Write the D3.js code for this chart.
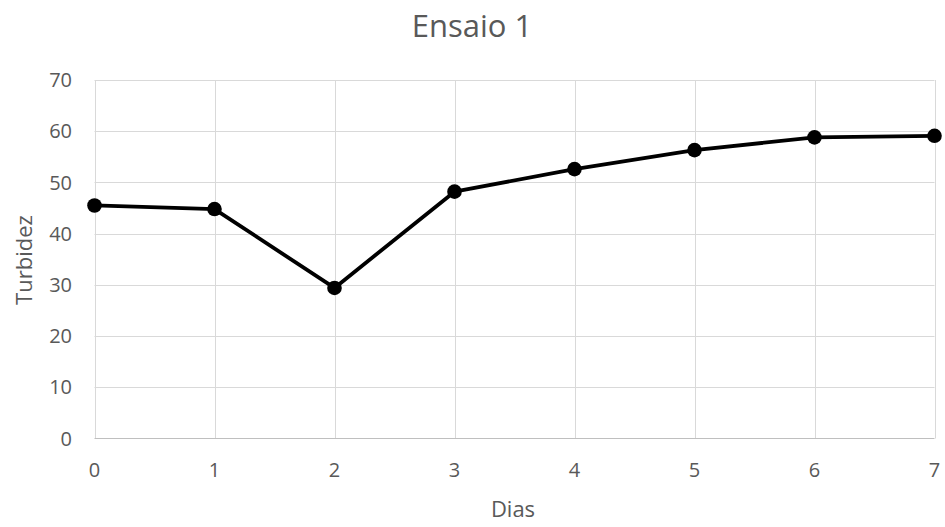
<!DOCTYPE html>
<html>
<head>
<meta charset="utf-8">
<script src="https://cdn.jsdelivr.net/npm/d3@7"></script>
<style>
  html, body { margin: 0; padding: 0; background: #fff; }
  svg { display: block; font-family: "Open Sans", "Liberation Sans", sans-serif; }
</style>
</head>
<body>
<svg id="chart" width="945" height="527"></svg>
<script>
// Turbidity readings per day
const dias = [0, 1, 2, 3, 4, 5, 6, 7];
const turbidez = [45.5, 44.8, 29.4, 48.2, 52.6, 56.3, 58.8, 59.1];
const xTicks = [0, 1, 2, 3, 4, 5, 6, 7];
const yTicks = [0, 10, 20, 30, 40, 50, 60, 70];

const svg = d3.select("#chart");
const plotLeft = 94.5, plotRight = 934.5, plotTop = 80, plotBottom = 438.5;
const textColor = "#595959";

const x = d3.scaleLinear().domain([0, 7]).range([plotLeft, plotRight]);
const y = d3.scaleLinear().domain([0, 70]).range([plotBottom, plotTop]);

// Gridlines
svg.append("g")
  .selectAll("line")
  .data(yTicks.filter(d => d > 0))
  .join("line")
  .attr("x1", plotLeft).attr("x2", plotRight)
  .attr("y1", d => Math.round(y(d)) + 0.5).attr("y2", d => Math.round(y(d)) + 0.5)
  .attr("stroke", "#d9d9d9").attr("stroke-width", 1);

svg.append("g")
  .selectAll("line")
  .data(xTicks)
  .join("line")
  .attr("x1", d => Math.round(x(d)) + 0.5).attr("x2", d => Math.round(x(d)) + 0.5)
  .attr("y1", plotTop).attr("y2", plotBottom)
  .attr("stroke", "#d9d9d9").attr("stroke-width", 1);

// X axis line
svg.append("line")
  .attr("x1", plotLeft).attr("x2", plotRight)
  .attr("y1", plotBottom).attr("y2", plotBottom)
  .attr("stroke", "#bfbfbf").attr("stroke-width", 1);

// Y tick labels
svg.append("g")
  .selectAll("text")
  .data(yTicks)
  .join("text")
  .attr("x", 72)
  .attr("y", d => y(d))
  .attr("dy", "0.36em")
  .attr("text-anchor", "end")
  .attr("font-size", 20)
  .attr("fill", textColor)
  .text(d => d);

// X tick labels
svg.append("g")
  .selectAll("text")
  .data(xTicks)
  .join("text")
  .attr("x", d => x(d))
  .attr("y", 477)
  .attr("text-anchor", "middle")
  .attr("font-size", 20)
  .attr("fill", textColor)
  .text(d => d);

// Axis titles
svg.append("text")
  .attr("x", 513).attr("y", 517)
  .attr("text-anchor", "middle")
  .attr("font-size", 22)
  .attr("fill", textColor)
  .text("Dias");

svg.append("text")
  .attr("transform", "translate(32,260) rotate(-90)")
  .attr("text-anchor", "middle")
  .attr("font-size", 22)
  .attr("fill", textColor)
  .text("Turbidez");

// Chart title
svg.append("text")
  .attr("x", 472).attr("y", 37)
  .attr("text-anchor", "middle")
  .attr("font-size", 31)
  .attr("fill", textColor)
  .text("Ensaio 1");

// Series line and markers
const data = dias.map((d, i) => ({ d, v: turbidez[i] }));
svg.append("path")
  .datum(data)
  .attr("fill", "none")
  .attr("stroke", "#000")
  .attr("stroke-width", 3.8)
  .attr("stroke-linejoin", "round")
  .attr("d", d3.line().x(p => x(p.d)).y(p => y(p.v)));

svg.append("g")
  .selectAll("circle")
  .data(data)
  .join("circle")
  .attr("cx", p => x(p.d))
  .attr("cy", p => y(p.v))
  .attr("r", 7.3)
  .attr("fill", "#000");
</script>
</body>
</html>
